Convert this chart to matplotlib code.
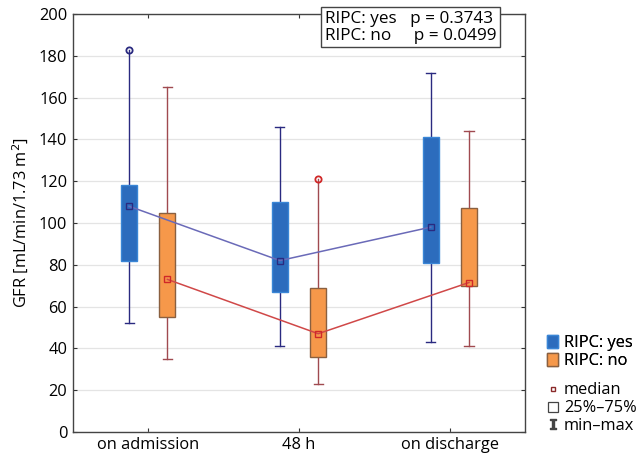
import matplotlib
matplotlib.use("Agg")
import matplotlib.pyplot as plt
from matplotlib.patches import Rectangle
from matplotlib.lines import Line2D

plt.rcParams['font.family'] = ['Open Sans', 'DejaVu Sans']

categories = ["on admission", "48 h", "on discharge"]
# RIPC: yes
yes_min = [52, 41, 43]
yes_q1 = [82, 67, 81]
yes_med = [108, 82, 98]
yes_q3 = [118, 110, 141]
yes_max = [183, 146, 172]
yes_max_outlier = [True, False, False]
# RIPC: no
no_min = [35, 23, 41]
no_q1 = [55, 36, 70]
no_med = [73, 47, 71.5]
no_q3 = [105, 69, 107]
no_max = [165, 121, 144]
no_max_outlier = [False, True, False]

FS = 11.8

fig = plt.figure(figsize=(6.39, 4.59), dpi=100)
ax = fig.add_axes([0.114, 0.059, 0.708, 0.9105])

off = 0.127
bw = 0.105
groups = [
    dict(mn=yes_min, q1=yes_q1, md=yes_med, q3=yes_q3, mx=yes_max, out=yes_max_outlier,
         dx=-off, face="#2c6cbd", edge="#3a86d6", wh="#2a2a80", med="#2a2a80", line="#6a6ab8"),
    dict(mn=no_min, q1=no_q1, md=no_med, q3=no_q3, mx=no_max, out=no_max_outlier,
         dx=off, face="#f6984a", edge="#8a6040", wh="#a04a50", med="#d02828", line="#d04848"),
]
xs = list(range(len(categories)))
for g in groups:
    px = [x + g["dx"] for x in xs]
    for i, x in enumerate(px):
        ax.plot([x, x], [g["mn"][i], g["mx"][i]], color=g["wh"], lw=1.0, zorder=2)
        ax.plot([x - 0.03, x + 0.03], [g["mn"][i]] * 2, color=g["wh"], lw=1.0, zorder=2)
        if g["out"][i]:
            ax.plot(x, g["mx"][i], marker='o', ms=4.5, mfc='none', mec=g["med"], mew=1.3, zorder=5)
        else:
            ax.plot([x - 0.03, x + 0.03], [g["mx"][i]] * 2, color=g["wh"], lw=1.0, zorder=2)
        ax.add_patch(Rectangle((x - bw / 2, g["q1"][i]), bw, g["q3"][i] - g["q1"][i],
                               facecolor=g["face"], edgecolor=g["edge"], lw=1.0, zorder=3))
    ax.plot(px, g["md"], color=g["line"], lw=1.1, zorder=4)
    ax.plot(px, g["md"], ls='none', marker='s', ms=4.5, mfc='none', mec=g["med"], mew=1.0, zorder=5)

ax.set_xlim(-0.5, 2.5)
ax.set_ylim(0, 200)
ax.set_yticks(range(0, 201, 20))
ax.set_xticks(xs)
ax.set_xticklabels(categories, fontsize=FS)
ax.tick_params(axis='y', labelsize=FS)
ax.tick_params(direction='in', length=3, top=True, right=True, color="#333333", pad=4)
ax.grid(axis='y', color="#e4e4e4", lw=0.9, zorder=0)
ax.set_axisbelow(True)
for s in ax.spines.values():
    s.set_color("#444444")
    s.set_linewidth(1.0)
ax.set_ylabel("GFR [mL/min/1.73 m$^2$]", fontsize=FS, labelpad=6)

fig.text(325 / 639, 1 - 11 / 459, "RIPC: yes   p = 0.3743\nRIPC: no     p = 0.0499",
         fontsize=12.3, va='top', ha='left', linespacing=1.05,
         bbox=dict(boxstyle='square,pad=0.22', facecolor='white', edgecolor='#444444', lw=1.0),
         zorder=10)

h1 = [Rectangle((0, 0), 1, 1, facecolor="#2c6cbd", edgecolor="#3a86d6"),
      Rectangle((0, 0), 1, 1, facecolor="#f6984a", edgecolor="#8a6040")]
leg1 = fig.legend(h1, ["RIPC: yes", "RIPC: no"], loc='upper left', bbox_to_anchor=(0.843, 0.288),
                  frameon=False, fontsize=FS, handlelength=0.7, handleheight=0.8,
                  handletextpad=0.35, labelspacing=0.15, borderpad=0)
h2 = [Line2D([], [], ls='none', marker='s', ms=3.5, mfc='none', mec='#8a2a2a', mew=1.0),
      Line2D([], [], ls='none', marker='s', ms=7, mfc='none', mec='#444444', mew=0.9),
      Line2D([], [], ls='none', marker='$\\mathtt{I}$', ms=7, color='#444444')]
leg2 = fig.legend(h2, ["median", "25%\u201375%", "min\u2013max"], loc='upper left',
                  bbox_to_anchor=(0.843, 0.185), frameon=False, fontsize=FS,
                  handlelength=0.7, handletextpad=0.35, labelspacing=0.12, borderpad=0)
fig.add_artist(leg1)

fig.savefig("out.png", dpi=100)
